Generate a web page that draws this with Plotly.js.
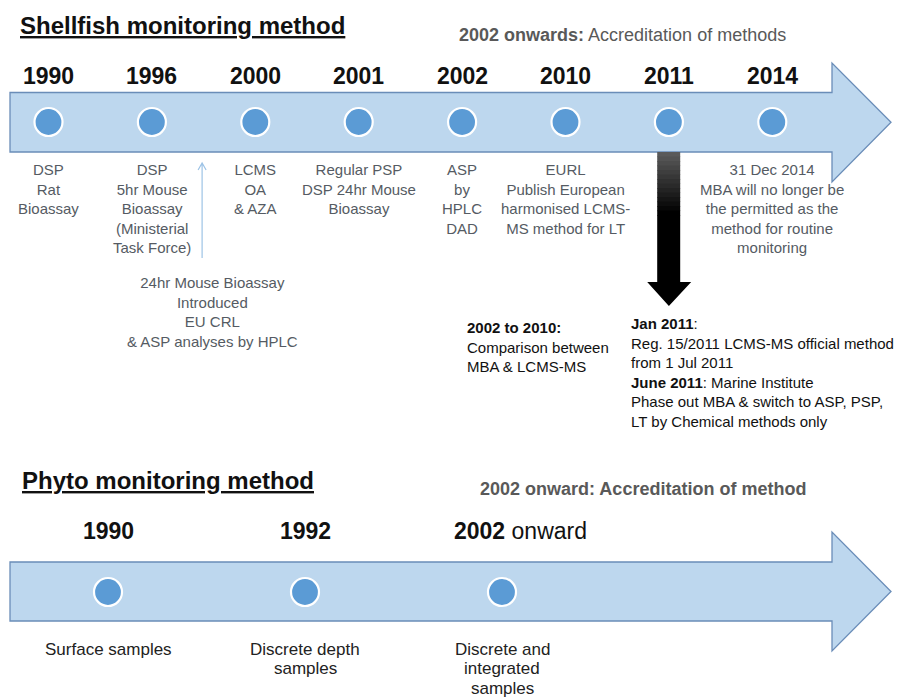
<!DOCTYPE html>
<html>
<head>
<meta charset="utf-8">
<script src="https://cdn.plot.ly/plotly-3.0.1.min.js"></script>
<style>html,body{margin:0;padding:0;background:#fff}#chart{width:912px;height:700px}</style>
</head>
<body>
<div id="chart"></div>
<script>
// ---------------- DATA ----------------
const shellTitle = 'Shellfish monitoring method';
const shellAccreditationBold = '2002 onwards:';
const shellAccreditationText = ' Accreditation of methods';
const shellYears = ['1990', '1996', '2000', '2001', '2002', '2010', '2011', '2014'];
const shellEvents = [
  'DSP<br>Rat<br>Bioassay',
  'DSP<br>5hr Mouse<br>Bioassay<br>(Ministerial<br>Task Force)',
  'LCMS<br>OA<br>& AZA',
  'Regular PSP<br>DSP 24hr Mouse<br>Bioassay',
  'ASP<br>by<br>HPLC<br>DAD',
  'EURL<br>Publish European<br>harmonised LCMS-<br>MS method for LT',
  '',
  '31 Dec 2014<br>MBA will no longer be<br>the permitted as the<br>method for routine<br>monitoring'
];
const shellSubNote = '24hr Mouse Bioassay<br>Introduced<br>EU CRL<br>& ASP analyses by HPLC';
const shellSubNoteAt = 1.5; // between 1996 and 2000
const shellHighlightYear = '2011';
const noteComparison = '<b>2002 to 2010:</b><br>Comparison between<br>MBA & LCMS-MS';
const note2011 = '<b>Jan 2011</b>:<br>Reg. 15/2011 LCMS-MS official method<br>from 1 Jul 2011<br><b>June 2011</b>: Marine Institute<br>Phase out MBA & switch to ASP, PSP,<br>LT by Chemical methods only';

const phytoTitle = 'Phyto monitoring method';
const phytoAccreditation = '2002 onward: Accreditation of method';
const phytoYears = ['1990', '1992', '2002'];
const phytoYearSuffix = ['', '', ' onward'];
const phytoEvents = [
  ['Surface samples'],
  ['Discrete depth', 'samples'],
  ['Discrete and', 'integrated', 'samples']
];

// ---------------- LAYOUT CONSTANTS ----------------
const W = 912, H = 700;
const FONT = 'Liberation Sans, Arial, sans-serif';
const shellX0 = 48.5, shellStep = 103.4;
const phytoX0 = 108, phytoStep = 197;
const SHELL_ROW_Y = 122, PHYTO_ROW_Y = 592;
const ARROW_FILL = '#bdd7ee', ARROW_LINE = '#6a8db8';
const DOT_FILL = '#5b9bd5';
const GREY = '#555b63';

function arrowPath(x0, xb, xt, yt, yb, yht, yhb) {
  const ym = (yt + yb) / 2;
  return `M${x0},${yt} L${xb},${yt} L${xb},${yht} L${xt},${ym} L${xb},${yhb} L${xb},${yb} L${x0},${yb} Z`;
}

const traces = [
  {
    type: 'scatter', mode: 'markers', xaxis: 'x', yaxis: 'y',
    x: shellYears.map((_, i) => i),
    y: shellYears.map(() => SHELL_ROW_Y),
    marker: {size: 28, color: DOT_FILL, line: {color: '#ffffff', width: 2.2}},
    hoverinfo: 'skip', showlegend: false
  },
  {
    type: 'scatter', mode: 'markers', xaxis: 'x2', yaxis: 'y',
    x: phytoYears.map((_, i) => i),
    y: phytoYears.map(() => PHYTO_ROW_Y),
    marker: {size: 28, color: DOT_FILL, line: {color: '#ffffff', width: 2.2}},
    hoverinfo: 'skip', showlegend: false
  }
];

const shapes = [];
// big timeline arrows
shapes.push({type: 'path', xref: 'x3', yref: 'y', layer: 'below',
  path: arrowPath(10, 832, 891, 92.5, 152, 63, 182),
  fillcolor: ARROW_FILL, line: {color: ARROW_LINE, width: 1.3}});
shapes.push({type: 'path', xref: 'x3', yref: 'y', layer: 'below',
  path: arrowPath(10, 832, 891, 562, 621, 532, 651),
  fillcolor: ARROW_FILL, line: {color: ARROW_LINE, width: 1.3}});

// black downward arrow at highlighted year (gradient shaft via bands)
const hi = shellYears.indexOf(shellHighlightYear);
const bandTop = 152, bandEnd = 215, nb = 14;
for (let k = 0; k < nb; k++) {
  const t = k / (nb - 1);
  const c = Math.round(90 * (1 - t));
  const y0 = bandTop + (bandEnd - bandTop) * k / nb;
  const y1 = bandTop + (bandEnd - bandTop) * (k + 1) / nb + 0.6;
  shapes.push({type: 'rect', xref: 'x', yref: 'y', xsizemode: 'pixel', xanchor: hi,
    x0: -11.7, x1: 11.3, y0: y0, y1: y1, fillcolor: `rgb(${c},${c},${c})`, line: {width: 0}});
}
shapes.push({type: 'path', xref: 'x', yref: 'y', xsizemode: 'pixel', xanchor: hi,
  path: `M-11.7,${bandEnd} L11.3,${bandEnd} L11.3,282 L22.3,282 L0,306 L-21.7,282 L-11.7,282 Z`,
  fillcolor: '#000000', line: {width: 0}});

// thin light-blue up arrow for the sub note
shapes.push({type: 'path', xref: 'x', yref: 'y', xsizemode: 'pixel', xanchor: shellSubNoteAt,
  path: 'M-1.5,258 L-1.5,163 M-5.5,170 L-1.5,163 L2.5,170',
  line: {color: '#9dc3e6', width: 1.2}});

const annotations = [];
function ann(o) { annotations.push(Object.assign({showarrow: false}, o)); }

// Shellfish section
ann({xref: 'x3', yref: 'y', x: 18, y: 25, xanchor: 'left', yanchor: 'middle',
  text: `<b><u>${shellTitle}</u></b>`, font: {family: FONT, size: 24, color: '#111'}});
ann({xref: 'x3', yref: 'y', x: 622, y: 35, xanchor: 'center', yanchor: 'middle',
  text: `<b>${shellAccreditationBold}</b>${shellAccreditationText}`, font: {family: FONT, size: 18, color: '#595959'}});
shellYears.forEach((yr, i) => {
  ann({xref: 'x', yref: 'y', x: i, y: 76, xanchor: 'center', yanchor: 'middle',
    text: `<b>${yr}</b>`, font: {family: FONT, size: 23, color: '#111'}});
  if (shellEvents[i]) {
    ann({xref: 'x', yref: 'y', x: i, y: 159, xanchor: 'center', yanchor: 'top', align: 'center',
      text: shellEvents[i], font: {family: FONT, size: 15, color: GREY}});
  }
});
ann({xref: 'x', yref: 'y', x: shellSubNoteAt, xshift: 9, y: 272, xanchor: 'center', yanchor: 'top', align: 'center',
  text: shellSubNote, font: {family: FONT, size: 15, color: GREY}});
ann({xref: 'x3', yref: 'y', x: 465, y: 317, xanchor: 'left', yanchor: 'top', align: 'left',
  text: noteComparison, font: {family: FONT, size: 15, color: '#111'}});
ann({xref: 'x3', yref: 'y', x: 629, y: 313, xanchor: 'left', yanchor: 'top', align: 'left',
  text: note2011, font: {family: FONT, size: 15, color: '#111'}});

// Phyto section
ann({xref: 'x3', yref: 'y', x: 20, y: 480, xanchor: 'left', yanchor: 'middle',
  text: `<b><u>${phytoTitle}</u></b>`, font: {family: FONT, size: 24, color: '#111'}});
ann({xref: 'x3', yref: 'y', x: 643, y: 489, xanchor: 'center', yanchor: 'middle',
  text: `<b>${phytoAccreditation}</b>`, font: {family: FONT, size: 18, color: '#595959'}});
phytoYears.forEach((yr, i) => {
  ann({xref: 'x2', yref: 'y', x: i, y: 531, xanchor: 'center', yanchor: 'middle',
    xshift: phytoYearSuffix[i] ? 18 : 0,
    text: `<b>${yr}</b>${phytoYearSuffix[i]}`, font: {family: FONT, size: 23, color: '#111'}});
  phytoEvents[i].forEach((line, k) => {
    ann({xref: 'x2', yref: 'y', x: i, y: 649 + k * 19.8, xanchor: 'center', yanchor: 'middle',
      text: line, font: {family: FONT, size: 17, color: '#222'}});
  });
});

const layout = {
  width: W, height: H,
  margin: {l: 0, r: 0, t: 0, b: 0, pad: 0},
  paper_bgcolor: '#ffffff', plot_bgcolor: '#ffffff',
  showlegend: false,
  xaxis: {range: [-shellX0 / shellStep, (W - shellX0) / shellStep], visible: false, fixedrange: true},
  xaxis2: {range: [-phytoX0 / phytoStep, (W - phytoX0) / phytoStep], overlaying: 'x', anchor: 'y', visible: false, fixedrange: true},
  xaxis3: {range: [0, W], overlaying: 'x', anchor: 'y', visible: false, fixedrange: true},
  yaxis: {range: [H, 0], visible: false, fixedrange: true},
  shapes: shapes,
  annotations: annotations
};

Plotly.newPlot('chart', traces, layout, {displayModeBar: false, staticPlot: true});
</script>
</body>
</html>
